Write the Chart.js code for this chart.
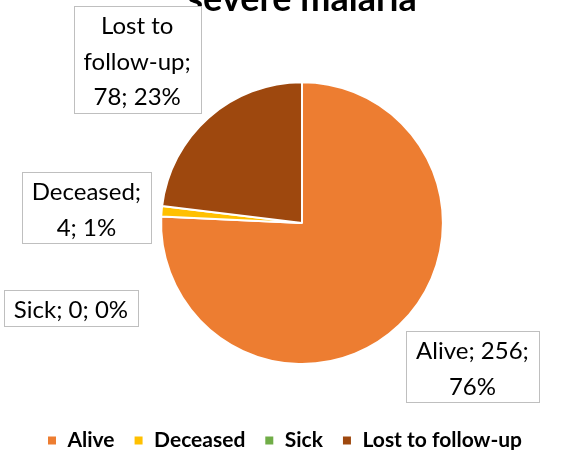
<!DOCTYPE html>
<html lang="en">
<head>
  <meta charset="UTF-8">
  <title>severe malaria</title>
  <script src="https://cdn.jsdelivr.net/npm/chart.js"></script>
  <style>
    html, body { margin: 0; padding: 0; background: #fff; overflow: hidden; }
    /* a little wider than the window so the pie sits right of centre like the original */
    .wrap { width: 576px; height: 450px; }
  </style>
</head>
<body>
  <div class="wrap"><canvas id="pie"></canvas></div>

  <script>
    // data
    const categories = ['Alive', 'Deceased', 'Sick', 'Lost to follow-up'];
    const counts = [256, 4, 0, 78];
    const colors = ['#ED7D31', '#FFC000', '#70AD47', '#9E480E'];

    // where each data label box sits, relative to the pie centre, in radii
    const labelSpots = [[1.21, 1.02], [-1.53, -0.11], [-1.64, 0.60], [-1.17, -1.16]];

    const total = counts.reduce((a, b) => a + b, 0);

    function wrapText(ctx, text, maxW) {
      const words = text.split(' ');
      const lines = [];
      let cur = '';
      words.forEach(w => {
        const test = cur ? cur + ' ' + w : w;
        if (cur && ctx.measureText(test).width > maxW) {
          lines.push(cur);
          cur = w;
        } else {
          cur = test;
        }
      });
      if (cur) lines.push(cur);
      return lines;
    }

    // boxed data labels, Excel style
    const boxLabels = {
      id: 'boxLabels',
      afterDatasetsDraw(chart) {
        const ctx = chart.ctx;
        const arcs = chart.getDatasetMeta(0).data;
        const lineH = 35.5;
        ctx.save();
        ctx.font = '24px Lato';
        ctx.textAlign = 'center';
        ctx.textBaseline = 'middle';
        arcs.forEach((arc, i) => {
          const pct = Math.round(counts[i] / total * 100);
          const text = categories[i] + '; ' + counts[i] + '; ' + pct + '%';
          const lines = wrapText(ctx, text, 126);
          const w = Math.max(...lines.map(l => ctx.measureText(l).width)) + 20;
          const h = lines.length * lineH;
          const cx = arc.x + labelSpots[i][0] * arc.outerRadius;
          const cy = arc.y + labelSpots[i][1] * arc.outerRadius;
          const x0 = Math.round(cx - w / 2), y0 = Math.round(cy - h / 2);
          ctx.fillStyle = '#fff';
          ctx.fillRect(x0, y0, Math.round(w), Math.round(h));
          ctx.strokeStyle = '#BFBFBF';
          ctx.lineWidth = 1;
          ctx.strokeRect(x0 + 0.5, y0 + 0.5, Math.round(w), Math.round(h));
          ctx.fillStyle = '#000';
          lines.forEach((l, k) => {
            ctx.fillText(l, cx, y0 + lineH * (k + 0.5) + 3);
          });
        });
        ctx.restore();
      }
    };

    new Chart(document.getElementById('pie'), {
      type: 'pie',
      data: {
        labels: categories,
        datasets: [{
          data: counts,
          backgroundColor: colors,
          borderColor: '#fff',
          borderWidth: 2,
          hoverOffset: 0
        }]
      },
      options: {
        responsive: true,
        maintainAspectRatio: false,
        animation: false,
        layout: { padding: { top: -22, left: 28, right: 0, bottom: -11 } },
        plugins: {
          title: {
            display: true,
            text: 'severe malaria',
            color: '#000',
            font: { family: 'Lato', size: 36, weight: 'bold' },
            padding: { top: 0, bottom: 60 }
          },
          legend: {
            position: 'bottom',
            align: 'start',
            title: { display: true, text: ' ', font: { size: 10 }, padding: { top: 34, bottom: 0 } },
            labels: {
              boxWidth: 10,
              boxHeight: 10,
              padding: 19,
              color: '#000',
              font: { family: 'Lato', size: 21, weight: 'bold' }
            }
          },
          tooltip: { enabled: false }
        }
      },
      plugins: [boxLabels]
    });
  </script>
</body>
</html>
